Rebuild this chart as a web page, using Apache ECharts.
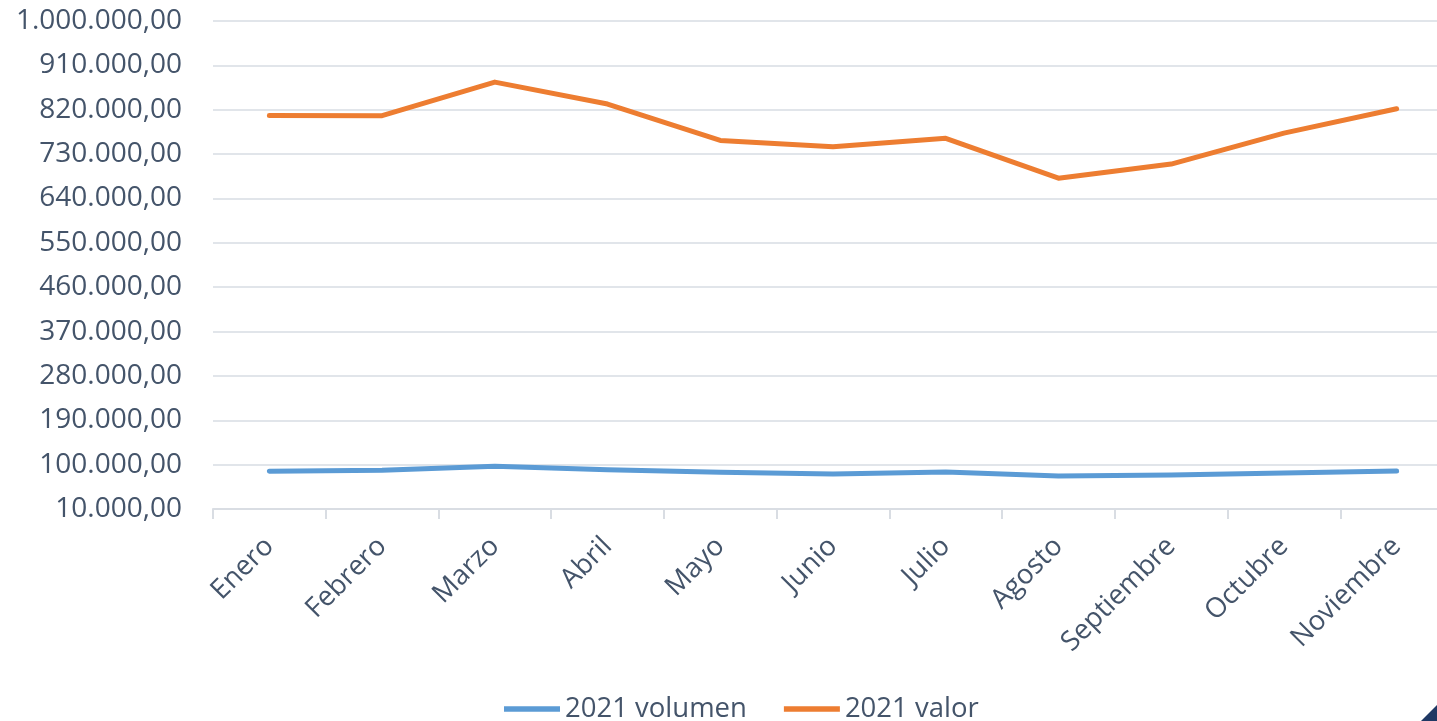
<!DOCTYPE html>
<html>
<head>
<meta charset="utf-8">
<script src="https://cdn.jsdelivr.net/npm/echarts@6/dist/echarts.min.js"></script>
<style>html,body{margin:0;padding:0;background:#fff}#c{width:1437px;height:721px}</style>
</head>
<body>
<div id="c"></div>
<script>
const categories = ['Enero','Febrero','Marzo','Abril','Mayo','Junio','Julio','Agosto','Septiembre','Octubre','Noviembre'];
const volumen2021 = [86400, 88400, 96500, 89800, 84400, 81100, 85000, 76900, 79000, 83000, 87000];
const valor2021 = [808400, 808000, 876000, 831500, 757700, 745100, 762000, 681200, 709800, 772500, 822000];
const seriesNames = ['2021 volumen', '2021 valor'];
const yMin = 10000, yMax = 1000000, yStep = 90000;

function fmt(v){
  const n = Math.round(v);
  const s = String(n).replace(/\B(?=(\d{3})+(?!\d))/g, '.');
  return s + ',00';
}
const txt = '#44546A';
const font = 'Open Sans';
const chart = echarts.init(document.getElementById('c'));
chart.setOption({
  animation: false,
  backgroundColor: '#fff',
  grid: {left: 213, top: 21, width: 1240, height: 488, containLabel: false, outerBoundsMode: 'none'},
  legend: {
    left: 499, top: 690, itemWidth: 56, itemHeight: 14, itemGap: 37,
    icon: 'path://M0,0 L10,0 L10,1 L0,1 Z',
    textStyle: {color: txt, fontFamily: font, fontSize: 27.5},
    data: seriesNames
  },
  xAxis: {
    type: 'category', data: categories, boundaryGap: true,
    axisLine: {lineStyle: {color: '#D9DDE3', width: 2}},
    axisTick: {show: true, length: 10, lineStyle: {color: '#D9DDE3', width: 2}},
    axisLabel: {rotate: 45, color: txt, fontFamily: font, fontSize: 27.5, margin: 33, interval: 0}
  },
  yAxis: {
    type: 'value', min: yMin, max: yMax, interval: yStep,
    axisLine: {show: false}, axisTick: {show: false},
    splitLine: {lineStyle: {color: '#E1E5EA', width: 2}},
    axisLabel: {color: txt, fontFamily: font, fontSize: 28, margin: 31, formatter: fmt}
  },
  series: [
    {name: seriesNames[0], type: 'line', data: volumen2021, symbol: 'none',
     lineStyle: {color: '#5B9BD5', width: 5, cap: 'round', join: 'round'}, itemStyle: {color: '#5B9BD5'}},
    {name: seriesNames[1], type: 'line', data: valor2021, symbol: 'none',
     lineStyle: {color: '#ED7D31', width: 5, cap: 'round', join: 'round'}, itemStyle: {color: '#ED7D31'}}
  ],
  graphic: [{type: 'polygon', shape: {points: [[1437, 705], [1437, 721], [1421, 721]]}, style: {fill: '#1F3864'}}]
});
</script>
</body>
</html>
